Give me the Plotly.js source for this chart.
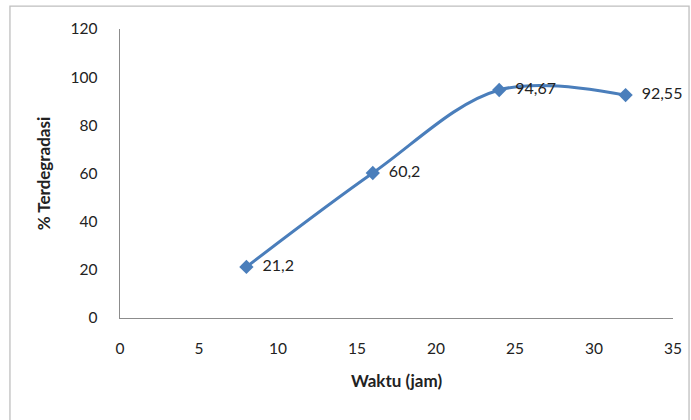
<!DOCTYPE html>
<html>
<head>
<meta charset="utf-8">
<script src="https://cdn.plot.ly/plotly-3.0.1.min.js"></script>
<style>html,body{margin:0;padding:0;background:#fff;}#chart{width:691px;height:420px;}</style>
</head>
<body>
<div id="chart"></div>
<script>
var waktu = [8, 16, 24, 32];
var terdegradasi = [21.2, 60.2, 94.67, 92.55];
var labels = ["21,2", "60,2", "94,67", "92,55"];
var xTicks = [0, 5, 10, 15, 20, 25, 30, 35];
var yTicks = [0, 20, 40, 60, 80, 100, 120];

var font = "Lato, 'Open Sans', sans-serif";

var trace = {
  x: waktu,
  y: terdegradasi,
  mode: "lines+markers+text",
  type: "scatter",
  line: {shape: "spline", smoothing: 1, color: "#4A7EBB", width: 3},
  marker: {symbol: "diamond", size: 11, color: "#4A7EBB"},
  text: labels.map(function(s){ return "  " + s; }),
  textposition: "middle right",
  textfont: {family: font, size: 16, color: "#222"},
  cliponaxis: false,
  hoverinfo: "none"
};

var layout = {
  width: 691, height: 420,
  margin: {l: 120, r: 18, t: 29, b: 101.5},
  paper_bgcolor: "#fff", plot_bgcolor: "#fff",
  showlegend: false,
  font: {family: font, size: 15.5, color: "#222"},
  xaxis: {
    range: [0, 35], tickvals: xTicks, ticktext: xTicks.map(String),
    showgrid: false, zeroline: false, showline: true, linecolor: "#8c8c8c", linewidth: 1.3,
    ticks: "", ticklabelstandoff: 16,
    tickfont: {family: font, size: 15.5, color: "#222"},
    title: {text: "<b>Waktu (jam)</b>", font: {family: font, size: 17, color: "#222"}, standoff: 19}
  },
  yaxis: {
    range: [0, 120], tickvals: yTicks, ticktext: yTicks.map(String),
    showgrid: false, zeroline: false, showline: true, linecolor: "#8c8c8c", linewidth: 1.3,
    ticks: "", ticklabelstandoff: 18,
    tickfont: {family: font, size: 15.5, color: "#222"},
    title: {text: "<b>% Terdegradasi</b>", font: {family: font, size: 17, color: "#222"}, standoff: 15}
  },
  shapes: [{
    type: "rect", xref: "paper", yref: "paper",
    x0: -0.199, x1: 1.029, y0: -0.5, y1: 1.079,
    line: {color: "#bfbfbf", width: 1.3}, fillcolor: "rgba(0,0,0,0)", layer: "below"
  }]
};

Plotly.newPlot("chart", [trace], layout, {staticPlot: true, displayModeBar: false});
</script>
</body>
</html>
